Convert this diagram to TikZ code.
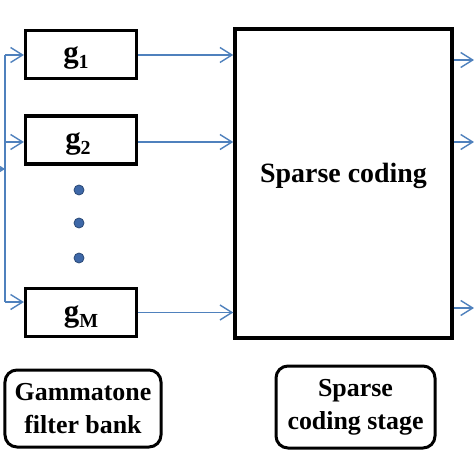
\documentclass[tikz,border=0pt]{standalone}
\usepackage{fontspec}
\setmainfont{Liberation Serif}
\usetikzlibrary{arrows.meta}
\definecolor{arrblue}{RGB}{79,129,189}
\definecolor{dotblue}{RGB}{62,104,168}
\newcommand{\gsub}[1]{g\raisebox{-6bp}{\fontsize{20}{20}\selectfont #1}}
\begin{document}
\begin{tikzpicture}[x=1bp,y=-1bp,
  filt/.style={draw=black,line width=3.2bp,minimum width=111bp,minimum height=48bp,inner sep=0pt},
  gtext/.style={anchor=base,inner sep=0pt,font=\bfseries\fontsize{31}{32}\selectfont},
  bigbox/.style={draw=black,line width=3.5bp,inner sep=0pt},
  lab/.style={draw=black,line width=3bp,rounded corners=12bp,align=center,inner sep=0pt,font=\bfseries\fontsize{26}{33}\selectfont},
  arr/.style={draw=arrblue,line width=1.3bp,-{Straight Barb[length=12bp,width=15bp,line width=1.4bp]}},
  bus/.style={draw=arrblue,line width=1.5bp},
  dotc/.style={circle,fill=dotblue,draw=dotblue!70!black,line width=0.8bp,minimum size=10bp,inner sep=0pt}]
\useasboundingbox (0,0) rectangle (474,474);
\fill[white] (0,0) rectangle (474,474);
% filter boxes
\node[filt] (g1) at (81,54.5) {};
\node[filt] (g2) at (81,140) {};
\node[filt] (gM) at (81,312.5) {};
\node[gtext] (t1) at (76,63) {\gsub{1}};
\node[gtext] (t2) at (78,149) {\gsub{2}};
\node[gtext] (tM) at (81,321) {\gsub{M}};
% dots
\node[dotc] (d1) at (79,190) {};
\node[dotc] (d2) at (79,223) {};
\node[dotc] (d3) at (79,258) {};
% sparse coding block
\node[bigbox,minimum width=217bp,minimum height=309bp] (sc) at (343.5,183.5) {};
\node[anchor=base,inner sep=0pt,font=\bfseries\fontsize{28}{30}\selectfont] (sctext) at (343.5,183) {Sparse coding};
% bus
\coordinate (b1) at (5,55);
\coordinate (b2) at (5,142);
\coordinate (b3) at (5,302);
\coordinate (bin) at (5,169);
\coordinate (in) at (-20,169);
\draw[bus] (b1) -- (b3);
\draw[arr] (in) -- (bin);
\draw[arr] (b1) -- (b1 -| g1.west);
\draw[arr] (b2) -- (b2 -| g2.west);
\draw[arr] (b3) -- (b3 -| gM.west);
% filters to sparse coding
\coordinate (s1) at (g1.east |- 0,55);
\coordinate (s2) at (g2.east |- 0,142);
\draw[arr] (s1) -- (s1 -| sc.west);
\draw[arr] (s2) -- (s2 -| sc.west);
\draw[arr] (gM.east) -- (gM.east -| sc.west);
% outputs
\coordinate (o1) at (474,60);
\coordinate (o2) at (474,142);
\coordinate (o3) at (474,308);
\draw[arr] (o1 -| sc.east) -- (o1);
\draw[arr] (o2 -| sc.east) -- (o2);
\draw[arr] (o3 -| sc.east) -- (o3);
% labels
\node[lab,minimum width=156bp,minimum height=77bp] (gfb) at (83,408.5) {Gammatone\\filter bank};
\node[lab,minimum width=159bp,minimum height=82bp] (scs) at (355.5,407) {Sparse\\coding stage};
\end{tikzpicture}
\end{document}
